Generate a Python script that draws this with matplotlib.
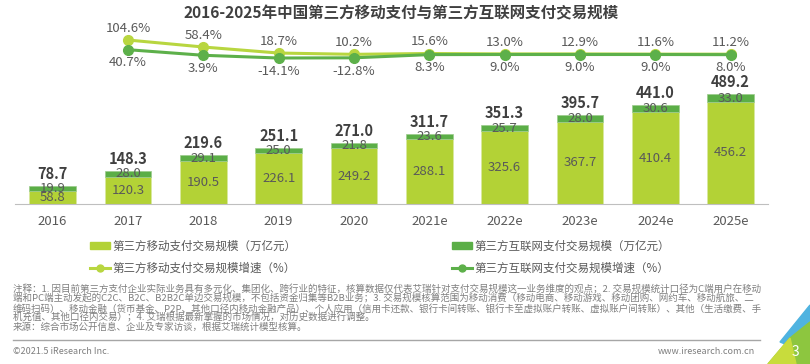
import numpy as np
import matplotlib.pyplot as plt
from matplotlib.patches import Patch, Polygon
from matplotlib.lines import Line2D

plt.rcParams['font.family'] = ['Noto Sans CJK SC', 'DejaVu Sans']

# data
years = ['2016', '2017', '2018', '2019', '2020', '2021e', '2022e', '2023e', '2024e', '2025e']
mobile = [58.8, 120.3, 190.5, 226.1, 249.2, 288.1, 325.6, 367.7, 410.4, 456.2]
internet = [19.9, 28.0, 29.1, 25.0, 21.8, 23.6, 25.7, 28.0, 30.6, 33.0]
growth_years = years[1:]
mobile_growth = [104.6, 58.4, 18.7, 10.2, 15.6, 13.0, 12.9, 11.6, 11.2]
internet_growth = [40.7, 3.9, -14.1, -12.8, 8.3, 9.0, 9.0, 9.0, 8.0]

c_mob = '#B3D236'
c_int = '#5BAE47'
c_txt = '#595959'

W, H = 810, 364
fig = plt.figure(figsize=(W / 100, H / 100), dpi=100)

def fx(px):
    return px / W

def fy(py):
    return 1 - py / H

# bars
ax = fig.add_axes([fx(15), fy(204), fx(768.3) - fx(15), (204 - 25) / H])
x = np.arange(len(years))
totals = [round(m + i, 1) for m, i in zip(mobile, internet)]
b1 = ax.bar(x, mobile, width=0.62, color=c_mob, edgecolor='#D8E9A0', linewidth=0.5)
b2 = ax.bar(x, internet, width=0.62, bottom=mobile, color=c_int, edgecolor='#9CCB8C', linewidth=0.5)
ax.bar_label(b1, fmt='%.1f', label_type='center', fontsize=9.5, color=c_txt)
ax.bar_label(b2, fmt='%.1f', label_type='center', fontsize=9.5, color=c_txt)
ax.bar_label(b2, labels=[f'{t:.1f}' for t in totals], padding=3, fontsize=10.5,
             fontweight='bold', color='#404040')
ax.set_xlim(-0.5, 9.5)
ax.set_ylim(0, 799)
ax.set_xticks(x, years)
ax.tick_params(axis='x', length=0, pad=8, labelsize=9.5, labelcolor=c_txt)
ax.set_yticks([])
for s in ['top', 'left', 'right']:
    ax.spines[s].set_visible(False)
ax.spines['bottom'].set_color('#BFBFBF')

# growth lines on a compressed secondary axis
ax2 = ax.twinx()
gx = x[1:]
ax2.plot(gx, mobile_growth, color='#B8D640', lw=2.2, marker='o', ms=7, zorder=3)
ax2.plot(gx, internet_growth, color='#5DB04A', lw=2.2, marker='o', ms=7, zorder=4)
for xi, v in zip(gx, mobile_growth):
    ax2.annotate(f'{v:.1f}%', (xi, v), xytext=(0, 8.5), textcoords='offset points',
                 ha='center', va='center', fontsize=9.5, color=c_txt)
for xi, v in zip(gx, internet_growth):
    ax2.annotate(f'{v:.1f}%', (xi, v), xytext=(0, -9.5), textcoords='offset points',
                 ha='center', va='center', fontsize=9.5, color=c_txt)
ax2.set_ylim(-976.8, 203.6)
ax2.set_yticks([])
for s in ax2.spines.values():
    s.set_visible(False)

# title
fig.text(fx(401), fy(13), '2016-2025年中国第三方移动支付与第三方互联网支付交易规模',
         ha='center', va='center', fontsize=11.2, fontweight='bold', color='#404040')

# legend
handles = [
    Patch(color=c_mob),
    Line2D([], [], color='#B8D640', lw=2.2, marker='o', ms=5),
    Patch(color=c_int),
    Line2D([], [], color='#5DB04A', lw=2.2, marker='o', ms=5),
]
labels = ['第三方移动支付交易规模（万亿元）', '第三方移动支付交易规模增速（%）',
          '第三方互联网支付交易规模（万亿元）', '第三方互联网支付交易规模增速（%）']
fig.legend(handles, labels, ncol=2, loc='upper left', bbox_to_anchor=(fx(90), fy(240)),
           frameon=False, fontsize=8.3, handlelength=1.7, handleheight=0.55,
           handletextpad=0.25, columnspacing=13.5, labelspacing=0.75,
           borderpad=0, borderaxespad=0, labelcolor=c_txt)

# notes
notes = [
    '注释：1. 因目前第三方支付企业实际业务具有多元化、集团化、跨行业的特征，核算数据仅代表艾瑞针对支付交易规模这一业务维度的观点；2. 交易规模统计口径为C端用户在移动',
    '端和PC端主动发起的C2C、B2C、B2B2C单边交易规模，不包括资金归集等B2B业务；3. 交易规模核算范围为移动消费（移动电商、移动游戏、移动团购、网约车、移动航旅、二',
    '维码扫码）、移动金融（货币基金、P2P、其他口径内移动金融产品）、个人应用（信用卡还款、银行卡间转账、银行卡至虚拟账户转账、虚拟账户间转账）、其他（生活缴费、手',
    '机充值、其他口径内交易）；4. 艾瑞根据最新掌握的市场情况，对历史数据进行调整。',
    '来源：综合市场公开信息、企业及专家访谈，根据艾瑞统计模型核算。',
]
for k, line in enumerate(notes):
    fig.text(fx(13), fy(289.5 + 9.5 * k), line, ha='left', va='center',
             fontsize=6.85, color='#7F7F7F')

fig.add_artist(Line2D([fx(13), fx(760)], [fy(340), fy(340)], color='#A6A6A6', lw=1))
fig.text(fx(13), fy(352), '©2021.5 iResearch Inc.', ha='left', va='center',
         fontsize=6.5, color='#7F7F7F')
fig.text(fx(755), fy(352), 'www.iresearch.com.cn', ha='right', va='center',
         fontsize=6.5, color='#7F7F7F')

# corner decoration
fig.add_artist(Polygon([(fx(780), fy(342)), (fx(810), fy(305)), (fx(810), fy(322)),
                        (fx(790), fy(346))], closed=True, color='#4FB3E0'))
fig.add_artist(Polygon([(fx(768), fy(364)), (fx(790), fy(338)), (fx(810), fy(322)),
                        (fx(810), fy(364))], closed=True, color='#8DC63F'))
fig.add_artist(Polygon([(fx(768), fy(364)), (fx(790), fy(338)), (fx(796), fy(364))],
                       closed=True, color='#C8DC3C'))
fig.text(fx(795), fy(352), '3', ha='center', va='center', fontsize=10, color='white')

fig.savefig('out.png', dpi=100)
